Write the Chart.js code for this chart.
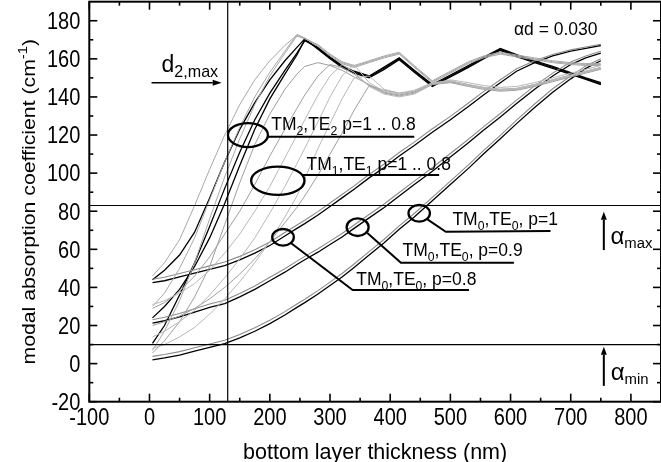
<!DOCTYPE html>
<html>
<head>
<meta charset="utf-8">
<title>Modal absorption vs. bottom layer thickness</title>
<script src="https://cdn.jsdelivr.net/npm/chart.js@4.4.1/dist/chart.umd.min.js"></script>
<style>
  html, body { margin: 0; padding: 0; background: #fff; }
</style>
</head>
<body>
<canvas id="absChart" width="661" height="462"></canvas>
<script>
// Bottom layer thickness grid shared by every curve (nm)
const THICKNESS = [5, 25, 50, 75, 100, 125, 150, 175, 200, 225, 245, 258, 280, 300, 320, 340,
                   365, 390, 415, 440, 470, 500, 530, 555, 583, 610, 640, 670, 700, 725, 750];

// Fundamental modes (cm^-1), p = 1, 0.9, 0.8
const TM0_P10 = [2, 3, 4.5, 6.5, 8.5, 10.5, 13.5, 17, 21, 25.5, 29.5, 32, 36.5, 41, 45.5, 50.5,
                 57, 63.5, 70.5, 77, 85.5, 94, 102.5, 110, 118, 126, 134.5, 142.5, 149.5, 155, 159];
const TE0_P10 = [3.8, 4.8, 6.3, 8.3, 10.3, 12.3, 15.3, 18.8, 22.8, 27.3, 31.3, 33.8, 38.3, 42.8, 47.3, 52.3,
                 58.8, 65.3, 72.3, 78.8, 87.3, 95.8, 104.3, 111.8, 119.8, 127.8, 136.3, 144.3, 151, 156.3, 160];
const TM0_P09 = [21.2, 22.5, 24.5, 27, 29.5, 31.5, 35, 39, 43.5, 48, 52, 54.5, 58.5, 62.5, 66.5, 71,
                 76.5, 82, 88, 94, 101, 108.5, 116, 122.5, 129.5, 136.5, 144, 151, 157, 160.5, 163];
const TE0_P09 = [23, 24.3, 26.3, 28.8, 31.3, 33.3, 36.8, 40.8, 45.3, 49.8, 53.8, 56.3, 60.3, 64.3, 68.3, 72.8,
                 78.3, 83.8, 89.8, 95.8, 102.8, 110.3, 117.8, 124.3, 131.3, 138.3, 145.8, 152.5, 158.3, 161.5, 164];
const TM0_P08 = [42.5, 43.5, 45.5, 47.5, 49.5, 51.5, 54.5, 58, 62, 67, 71, 73.5, 78, 82.5, 87, 91.5,
                 97.5, 103, 109, 114.5, 121.5, 128, 135, 141, 147.5, 153.5, 158, 161.5, 164, 165.5, 167];
const TE0_P08 = [44.3, 45.3, 47.3, 49.3, 51.3, 53.3, 56.3, 59.8, 63.8, 68.8, 72.8, 75.3, 79.8, 84.3, 88.8, 93.3,
                 99.3, 104.8, 110.8, 116.3, 123.3, 129.8, 136.8, 142.8, 149, 154.8, 159, 162.3, 164.7, 166.2, 167.6];

// First order modes
const TM1_P10 = [5.6, 12, 22, 35, 51, 73, 95, 115, 131, 144, 152, 156, 158, 156.5, 154, 150.5,
                 146.5, 142.5, 141, 142.5, 147, 148, 146, 144.5, 143.5, 144, 146, 148.5, 151, 153, 155];
const TE1_P10 = [8, 10, 14, 19, 26, 34, 43, 53, 64, 77, 88, 97, 113, 126, 139, 150,
                 151, 144, 142, 143.5, 147.5, 148.5, 146, 144.5, 143.5, 144, 146, 148.5, 151, 153, 155];
const TM1_P09 = [29, 32, 38, 46, 56, 68, 80, 94, 109, 123, 134, 141, 151, 157, 155.5, 152,
                 146, 142, 140.5, 142, 146.5, 147.5, 145.5, 144, 143, 143.5, 145.5, 148, 150.5, 152.5, 154.5];
const TE1_P09 = [31, 33, 37, 42, 49, 58, 68, 80, 93, 108, 120, 128, 141, 151, 157, 153,
                 145.5, 141.5, 140, 141.5, 146.5, 148.5, 146.5, 145, 144, 144.5, 146.5, 149, 151.5, 153.5, 155.5];
const TM1_P08 = [20, 22, 25, 29, 34, 40, 47, 55, 64, 74, 82, 88, 99, 110, 121, 133,
                 146, 143.5, 142, 143, 147, 148, 146.5, 145, 144, 144.5, 146.5, 149, 151.5, 153.5, 155.5];
const TE1_P08 = [14, 17, 22, 28, 36, 45, 55, 66, 79, 93, 105, 113, 127, 140, 151, 157,
                 147.5, 143, 141.5, 143, 147, 149, 147.5, 146, 145, 145.5, 147.5, 150, 152.5, 154.5, 156.5];

// Second order modes
const TM2_P10 = [10.6, 20, 36, 53, 72, 92, 111, 128, 142, 154, 163, 169.5, 166, 161, 156.5, 153.5,
                 151, 155.7, 160.5, 154, 146.5, 151.5, 156.5, 160.8, 165.5, 162.2, 159, 156, 152.8, 150, 147.5];
const TE2_P10 = [7, 17, 33, 53, 76, 98, 118, 136, 151, 163, 172, 170.5, 167.5, 162.5, 158.5, 156.5,
                 159, 161.5, 163.5, 156.5, 148.5, 153.5, 158.5, 161.5, 163.5, 162, 160.5, 159, 158, 157.5, 157.5];
const TM2_P09 = [24, 30, 39, 51, 66, 84, 104, 123, 139, 152, 162, 170, 165.5, 160.5, 156, 153,
                 150.5, 155.2, 160, 153.6, 146, 151, 156, 160.3, 165, 161.7, 158.5, 155.5, 152.3, 149.6, 147];
const TE2_P09 = [30, 37, 50, 66, 86, 106, 124, 140, 153, 164, 172.8, 170.8, 166.5, 161.5, 157.5, 155.5,
                 158, 160.5, 162.5, 155.5, 147.5, 152.5, 157.5, 160.5, 162.5, 161, 159.5, 158, 157, 156.5, 156.5];
const TM2_P08 = [44, 49, 57, 69, 87, 106, 123, 137, 149, 159, 166, 170.5, 165, 160, 155.5, 152.5,
                 150, 154.5, 159.5, 153, 145.5, 150.5, 155.5, 160, 164.5, 161.2, 158, 155, 151.8, 149.2, 146.5];
const TE2_P08 = [46, 53, 65, 83, 102, 120, 136, 149, 159, 167, 172.5, 171, 167, 162, 158, 156,
                 158.5, 161, 163, 156, 148, 153, 158, 161, 163, 161.5, 160, 158.5, 157.5, 157, 157];

// Axis ticks
const X_TICKS = [-100, 0, 100, 200, 300, 400, 500, 600, 700, 800];
const Y_TICKS = [-20, 0, 20, 40, 60, 80, 100, 120, 140, 160, 180];

// Marker lines
const D2_MAX = 130;
const ALPHA_MAX = 83;
const ALPHA_MIN = 10;

const TEXT_FONT = '"Liberation Sans", Arial, Helvetica, sans-serif';

// light lines first so the black ones end up on top
const SERIES = [
    { name: 'TE1 p=0.8', values: TE1_P08, color: '#b8b8b8', width: 1 },
    { name: 'TE1 p=0.9', values: TE1_P09, color: '#b8b8b8', width: 1 },
    { name: 'TE1 p=1',   values: TE1_P10, color: '#b8b8b8', width: 1 },
    { name: 'TM1 p=0.8', values: TM1_P08, color: '#9e9e9e', width: 1 },
    { name: 'TM1 p=0.9', values: TM1_P09, color: '#9e9e9e', width: 1 },
    { name: 'TM1 p=1',   values: TM1_P10, color: '#9e9e9e', width: 1 },
    { name: 'TE2 p=0.8', values: TE2_P08, color: '#a8a8a8', width: 1 },
    { name: 'TE2 p=0.9', values: TE2_P09, color: '#a8a8a8', width: 1 },
    { name: 'TE2 p=1',   values: TE2_P10, color: '#a8a8a8', width: 1 },
    { name: 'TE0 p=0.8', values: TE0_P08, color: '#8c8c8c', width: 1.1 },
    { name: 'TE0 p=0.9', values: TE0_P09, color: '#8c8c8c', width: 1.1 },
    { name: 'TE0 p=1',   values: TE0_P10, color: '#8c8c8c', width: 1.1 },
    { name: 'TM0 p=0.8', values: TM0_P08, color: '#000', width: 1.3 },
    { name: 'TM0 p=0.9', values: TM0_P09, color: '#000', width: 1.3 },
    { name: 'TM0 p=1',   values: TM0_P10, color: '#000', width: 1.3 },
    { name: 'TM2 p=0.8', values: TM2_P08, color: '#000', width: 1.3 },
    { name: 'TM2 p=0.9', values: TM2_P09, color: '#000', width: 1.3 },
    { name: 'TM2 p=1',   values: TM2_P10, color: '#000', width: 1.3 }
];

// Ellipse callouts: centre and leader points in data units, radii in px
const CALLOUTS = [
    { text: 'TM_{2},TE_{2} p=1 .. 0.8', centre: [163.6, 120], rx: 20, ry: 12,
      leader: [[196.7, 119.1], [440, 119.1]], label: [202.3, 122.6] },
    { text: 'TM_{1},TE_{1} p=1 .. 0.8', centre: [213.3, 96], rx: 26.7, ry: 14.2,
      leader: [[253.8, 99], [481.3, 99]], label: [260.9, 101.6] },
    { text: 'TM_{0},TE_{0}, p=0.8', centre: [221.9, 66.3], rx: 10.8, ry: 8.3,
      leader: [[235.5, 63.2], [337.6, 38.6], [531, 38.6]], label: [343.6, 41.3] },
    { text: 'TM_{0},TE_{0}, p=0.9', centre: [345.9, 71.6], rx: 11, ry: 8.8,
      leader: [[362, 68.6], [417.8, 53], [605.6, 53]], label: [420.5, 56.5] },
    { text: 'TM_{0},TE_{0}, p=1', centre: [448.2, 78.9], rx: 10.7, ry: 8.3,
      leader: [[461.9, 75.7], [492.4, 69.2], [666.4, 69.6]], label: [503.4, 72.8] }
];

/**
 * Split 'TM_{0}' / 'cm^{-1}' style strings into plain, sub and sup runs
 */
function parseRich(str) {
    const parts = [];
    const re = /([_^])\{([^}]*)\}/g;
    let last = 0, m;
    while ((m = re.exec(str)) !== null) {
        if (m.index > last) parts.push({ t: str.slice(last, m.index) });
        parts.push({ t: m[2], sub: m[1] === '_', sup: m[1] === '^' });
        last = re.lastIndex;
    }
    if (last < str.length) parts.push({ t: str.slice(last) });
    return parts;
}

function drawRich(ctx, str, x, y, opt) {
    const o = Object.assign({ size: 17.5, small: 0.7, drop: 0.3, rise: 0.42,
                              sx: 1, sy: 1, align: 'left', rotate: 0 }, opt);
    const parts = parseRich(str);
    const fontFor = p => ((p.sub || p.sup) ? o.size * o.small : o.size) + 'px ' + TEXT_FONT;

    let w = 0;
    parts.forEach(p => { ctx.font = fontFor(p); w += ctx.measureText(p.t).width; });

    ctx.save();
    ctx.translate(x, y);
    if (o.rotate) ctx.rotate(o.rotate);
    ctx.scale(o.sx, o.sy);
    ctx.textAlign = 'left';
    ctx.textBaseline = 'alphabetic';
    let cx = o.align === 'center' ? -w / 2 : (o.align === 'right' ? -w : 0);
    parts.forEach(p => {
        ctx.font = fontFor(p);
        const dy = p.sub ? o.size * o.drop : (p.sup ? -o.size * o.rise : 0);
        ctx.fillText(p.t, cx, dy);
        cx += ctx.measureText(p.t).width;
    });
    ctx.restore();
}

function strokePath(ctx, pts) {
    ctx.beginPath();
    pts.forEach((p, i) => i ? ctx.lineTo(p[0], p[1]) : ctx.moveTo(p[0], p[1]));
    ctx.stroke();
}

// straight arrow with a filled head at (x2, y2)
function arrow(ctx, x1, y1, x2, y2, head, half) {
    const a = Math.atan2(y2 - y1, x2 - x1);
    const bx = x2 - head * Math.cos(a), by = y2 - head * Math.sin(a);
    strokePath(ctx, [[x1, y1], [bx, by]]);
    ctx.beginPath();
    ctx.moveTo(x2, y2);
    ctx.lineTo(bx + half * Math.sin(a), by - half * Math.cos(a));
    ctx.lineTo(bx - half * Math.sin(a), by + half * Math.cos(a));
    ctx.closePath();
    ctx.fill();
}

const annotationPlugin = {
    id: 'annotations',
    afterDatasetsDraw(chart) {
        const ctx = chart.ctx;
        const { left, right, top, bottom } = chart.chartArea;
        const xs = chart.scales.x, ys = chart.scales.y;
        const P = (x, y) => [xs.getPixelForValue(x), ys.getPixelForValue(y)];

        ctx.save();
        ctx.strokeStyle = '#000';
        ctx.fillStyle = '#000';
        ctx.lineCap = 'butt';

        // d2,max and alpha limits
        ctx.lineWidth = 1.2;
        const xd = xs.getPixelForValue(D2_MAX);
        strokePath(ctx, [[xd, top], [xd, bottom]]);
        [ALPHA_MAX, ALPHA_MIN].forEach(a => {
            const y = ys.getPixelForValue(a);
            strokePath(ctx, [[left, y], [right, y]]);
        });

        // callouts
        CALLOUTS.forEach(c => {
            const [cx, cy] = P(c.centre[0], c.centre[1]);
            ctx.lineWidth = 2.3;
            ctx.beginPath();
            ctx.ellipse(cx, cy, c.rx, c.ry, 0, 0, Math.PI * 2);
            ctx.stroke();
            ctx.lineWidth = 2;
            strokePath(ctx, c.leader.map(p => P(p[0], p[1])));
            const [lx, ly] = P(c.label[0], c.label[1]);
            drawRich(ctx, c.text, lx, ly, { size: 17.5 });
        });

        // d2,max marker
        let p = P(20, 153.2);
        drawRich(ctx, 'd_{2,max}', p[0], p[1], { size: 23, small: 0.7, drop: 0.23 });
        ctx.lineWidth = 1.5;
        const a1 = P(3.4, 147.5), a2 = P(120, 147.5);
        arrow(ctx, a1[0], a1[1], a2[0], a2[1], 9, 3);

        p = P(605.6, 172.5);
        drawRich(ctx, 'αd = 0.030', p[0], p[1], { size: 17.5 });

        // alpha max / min arrows
        ctx.lineWidth = 2;
        let b1 = P(755, 59.6), b2 = P(755, 79.7);
        arrow(ctx, b1[0], b1[1], b2[0], b2[1], 8, 3);
        p = P(765.9, 62.8);
        drawRich(ctx, 'α_{max}', p[0], p[1], { size: 24, small: 0.62, drop: 0.17 });

        b1 = P(755, -11.7); b2 = P(755, 8.9);
        arrow(ctx, b1[0], b1[1], b2[0], b2[1], 8, 3);
        p = P(766.4, -8.6);
        drawRich(ctx, 'α_{min}', p[0], p[1], { size: 24, small: 0.62, drop: 0.17 });

        ctx.restore();
    }
};

// Boxed frame with inward ticks on all four sides, tick labels and axis titles
const framePlugin = {
    id: 'frame',
    afterDraw(chart) {
        const ctx = chart.ctx;
        const { left, right, top, bottom } = chart.chartArea;
        const xs = chart.scales.x, ys = chart.scales.y;
        const MAJOR = 8, MINOR = 4;

        ctx.save();
        ctx.strokeStyle = '#000';
        ctx.fillStyle = '#000';
        ctx.lineWidth = 1.6;

        const xTick = (v, len) => {
            const x = xs.getPixelForValue(v);
            strokePath(ctx, [[x, bottom], [x, bottom - len]]);
            strokePath(ctx, [[x, top], [x, top + len]]);
        };
        const yTick = (v, len) => {
            const y = ys.getPixelForValue(v);
            strokePath(ctx, [[left, y], [left + len, y]]);
            strokePath(ctx, [[right, y], [right - len, y]]);
        };
        X_TICKS.forEach(v => {
            xTick(v, MAJOR);
            if (v + 50 < xs.max) xTick(v + 50, MINOR);
        });
        Y_TICKS.forEach(v => {
            yTick(v, MAJOR);
            if (v + 10 < ys.max) yTick(v + 10, MINOR);
        });

        ctx.lineWidth = 2;
        ctx.strokeRect(left, top, right - left, bottom - top);

        X_TICKS.forEach(v => {
            drawRich(ctx, String(v), xs.getPixelForValue(v), bottom + 23,
                     { size: 20, sy: 1.16, align: 'center' });
        });
        Y_TICKS.forEach(v => {
            drawRich(ctx, String(v), left - 9, ys.getPixelForValue(v) + 8.3,
                     { size: 20, sy: 1.16, align: 'right' });
        });

        drawRich(ctx, 'bottom layer thickness (nm)', (left + right) / 2, bottom + 57,
                 { size: 21.5, align: 'center' });
        drawRich(ctx, 'modal absorption coefficient (cm^{-1})', 34.5, (top + bottom) / 2,
                 { size: 18, sx: 1.18, align: 'center', rotate: -Math.PI / 2 });
        ctx.restore();
    }
};

const datasets = SERIES.map(s => ({
    label: s.name,
    data: THICKNESS.map((t, i) => ({ x: t, y: s.values[i] })),
    showLine: true,
    borderColor: s.color,
    borderWidth: s.width,
    pointRadius: 0,
    tension: 0,
    fill: false
}));

new Chart(document.getElementById('absChart').getContext('2d'), {
    type: 'scatter',
    data: { datasets: datasets },
    options: {
        responsive: false,
        animation: false,
        devicePixelRatio: 1,
        layout: { padding: { top: 1.7, right: -1.4, bottom: 0, left: 0 } },
        plugins: {
            legend: { display: false },
            tooltip: { enabled: false }
        },
        scales: {
            x: {
                type: 'linear',
                min: -100,
                max: 850,
                grid: { display: false },
                border: { display: false },
                ticks: { display: false },
                afterBuildTicks: scale => { scale.ticks = X_TICKS.map(v => ({ value: v })); },
                afterFit: scale => { scale.height = 60.3; }
            },
            y: {
                type: 'linear',
                min: -20,
                max: 190,
                grid: { display: false },
                border: { display: false },
                ticks: { display: false },
                afterBuildTicks: scale => { scale.ticks = Y_TICKS.map(v => ({ value: v })); },
                afterFit: scale => { scale.width = 89.3; }
            }
        }
    },
    plugins: [annotationPlugin, framePlugin]
});
</script>
</body>
</html>
